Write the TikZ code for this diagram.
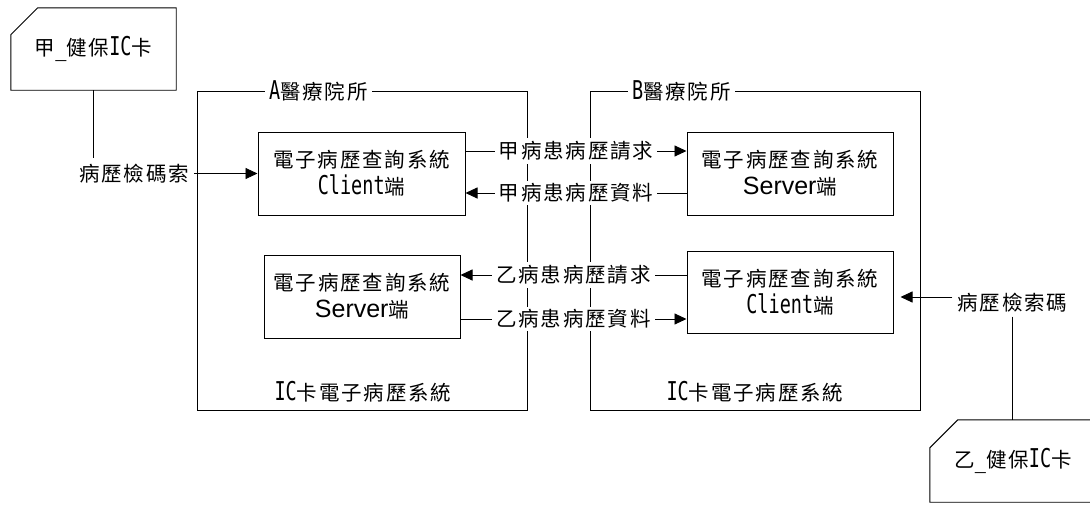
\documentclass[tikz,border=0pt]{standalone}
\usepackage{fontspec}
\usepackage{graphicx}
\newfontfamily\cjkfont[LetterSpace=9]{Noto Sans CJK TC}
\newfontfamily\latmono{DejaVu Sans Mono}
\newfontfamily\latsans{Liberation Sans}
\usetikzlibrary{arrows.meta}
% Latin pieces inside the Chinese labels: narrow, tall half-width letters
\newcommand\mn[1]{\scalebox{1}[1.4]{\latmono\fontsize{18.5}{27}\selectfont #1}}
\newcommand\sn[1]{{\latsans\fontsize{25}{27}\selectfont #1}}

\tikzset{
  every node/.style={font=\cjkfont\fontsize{20.5}{27}\selectfont, text=black, inner sep=0pt},
  rule/.style={draw=black, line width=0.9pt},
  frame/.style={rule, minimum width=330pt, minimum height=319pt},
  sysbox/.style={rule, line width=1pt, align=center, minimum height=83pt},
  card/.style={minimum width=165pt, minimum height=82pt},
  title/.style={fill=white, inner xsep=4pt, inner ysep=2pt},
  tag/.style={fill=white, inner xsep=4pt, inner ysep=3pt},
  wire/.style={rule, -{Triangle[length=12pt,width=11pt]}},
}

\begin{document}
\begin{tikzpicture}[x=1pt,y=-1pt]
\useasboundingbox (0,0) rectangle (1090,506);

% hospital frames
\node[frame] (hospA) at (362,250.5) {};
\node[frame] (hospB) at (755,250.5) {};
\node[title] (titleA) at (318.5,91) {\mn{A}醫療院所};
\node[title] (titleB) at (681.5,91) {\mn{B}醫療院所};
\node (sysA) at (363,392) {\mn{IC}卡電子病歷系統};
\node (sysB) at (755,392) {\mn{IC}卡電子病歷系統};

% query systems
\node[sysbox, minimum width=207pt] (clientA) at (361.5,173.5) {電子病歷查詢系統\\\mn{Client}端};
\node[sysbox, minimum width=196pt] (serverA) at (362,296.5) {電子病歷查詢系統\\\sn{Server}端};
\node[sysbox, minimum width=206pt] (serverB) at (790,173.5) {電子病歷查詢系統\\\sn{Server}端};
\node[sysbox, minimum width=206pt, minimum height=82pt] (clientB) at (790,292) {電子病歷查詢系統\\\mn{Client}端};

% record exchange between the two sites
\draw[wire] ([yshift=22.5pt]clientA.east) -- node[tag] {甲病患病歷請求} ([yshift=22.5pt]serverB.west);
\draw[wire] ([yshift=-19.5pt]serverB.west) -- node[tag] {甲病患病歷資料} ([yshift=-19.5pt]clientA.east);
\draw[wire] ([yshift=17pt]clientB.west) -- node[tag] {乙病患病歷請求} ([yshift=17pt]clientB.west -| serverA.east);
\draw[wire] ([yshift=-22.5pt]serverA.east) -- node[tag] {乙病患病歷資料} ([yshift=-22.5pt]serverA.east -| clientB.west);

% patient cards
\node[card] (cardA) at (93.5,49) {甲\mn{\_}健保\mn{IC}卡};
\draw[rule] (cardA.south west) -- ([yshift=-27pt]cardA.north west) -- ([xshift=27pt]cardA.north west)
  -- (cardA.north east) -- (cardA.south east) -- cycle;
\node[inner xsep=5pt, inner ysep=6pt] (keyA) at (134,173.5) {病歷檢碼索};
\draw[rule] (cardA.south) -- (cardA.south |- keyA.north);
\draw[wire] (keyA.east) -- (clientA.west);

\node[card, minimum width=166pt] (cardB) at (1013,461) {乙\mn{\_}健保\mn{IC}卡};
\draw[rule] (cardB.south east) -- (cardB.south west) -- ([yshift=-28pt]cardB.north west)
  -- ([xshift=28pt]cardB.north west) -- (cardB.north east);
\node[inner xsep=5pt, inner ysep=4pt] (keyB) at (1012.5,303) {病歷檢索碼};
\draw[rule] (keyB.south) -- (keyB.south |- cardB.north);
\draw[wire, shorten >=7pt] ([yshift=6pt]keyB.west) -- ([yshift=6pt]keyB.west -| clientB.east);
\end{tikzpicture}
\end{document}
